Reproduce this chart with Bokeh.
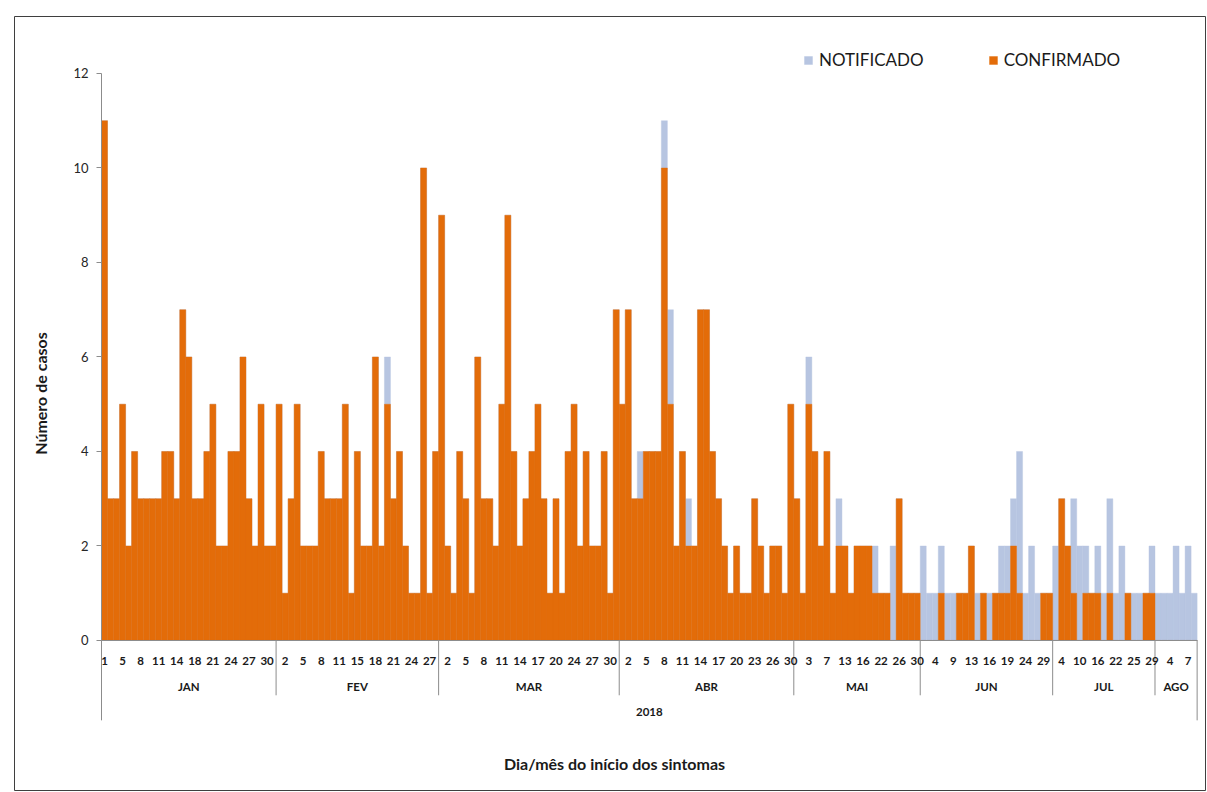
import math
from bokeh.plotting import figure
from bokeh.models import Range1d, FixedTicker, ColumnDataSource, Legend, LegendItem, Label
from bokeh.core.properties import value
from bokeh.embed import file_html
from bokeh.resources import INLINE

# ---------------- data ----------------
ano = "2018"
meses = ["JAN", "FEV", "MAR", "ABR", "MAI", "JUN", "JUL", "AGO"]

dias_jan = [1, 2, 3, 5, 6, 7, 8, 9, 10, 11, 12, 13, 14, 15, 16, 18, 19, 20, 21, 22, 23, 24, 25, 26, 27, 28, 29, 30, 31]
dias_fev = [1, 2, 3, 4, 5, 6, 7, 8, 9, 10, 11, 12, 13, 15, 16, 17, 18, 19, 20, 21, 22, 23, 24, 25, 26, 27, 28]
dias_mar = [1, 2, 3, 4, 5, 6, 7, 8, 9, 10, 11, 12, 13, 14, 15, 16, 17, 18, 19, 20, 21, 22, 24, 25, 26, 27, 28, 29, 30, 31]
dias_abr = [1, 2, 3, 4, 5, 6, 7, 8, 9, 10, 11, 12, 13, 14, 15, 16, 17, 18, 19, 20, 21, 22, 23, 24, 25, 26, 27, 28, 30]
dias_mai = [1, 2, 3, 4, 5, 7, 8, 10, 13, 14, 15, 16, 18, 21, 22, 23, 24, 26, 28, 29, 30]
dias_jun = [1, 3, 4, 5, 7, 9, 11, 12, 13, 14, 15, 16, 17, 18, 19, 21, 22, 24, 26, 27, 29, 30]
dias_jul = [2, 4, 6, 9, 10, 12, 13, 16, 18, 20, 22, 23, 24, 25, 26, 27, 29]
dias_ago = [1, 3, 4, 5, 6, 7, 8]

confirmado_jan = [11, 3, 3, 5, 2, 4, 3, 3, 3, 3, 4, 4, 3, 7, 6, 3, 3, 4, 5, 2, 2, 4, 4, 6, 3, 2, 5, 2, 2]
confirmado_fev = [5, 1, 3, 5, 2, 2, 2, 4, 3, 3, 3, 5, 1, 4, 2, 2, 6, 2, 5, 3, 4, 2, 1, 1, 10, 1, 4]
confirmado_mar = [9, 2, 1, 4, 3, 1, 6, 3, 3, 2, 5, 9, 4, 2, 3, 4, 5, 3, 1, 3, 1, 4, 5, 2, 4, 2, 2, 4, 1, 7]
confirmado_abr = [5, 7, 3, 3, 4, 4, 4, 10, 5, 2, 4, 2, 2, 7, 7, 4, 3, 2, 1, 2, 1, 1, 3, 2, 1, 2, 2, 1, 5]
confirmado_mai = [3, 1, 5, 4, 2, 4, 1, 2, 2, 1, 2, 2, 2, 1, 1, 1, 0, 3, 1, 1, 1]
confirmado_jun = [0, 0, 0, 1, 0, 0, 1, 1, 2, 0, 1, 0, 1, 1, 1, 2, 1, 0, 0, 0, 1, 1]
confirmado_jul = [0, 3, 2, 1, 0, 1, 1, 1, 0, 1, 0, 0, 1, 0, 0, 1, 1]
confirmado_ago = [0, 0, 0, 0, 0, 0, 0]

notificado_jan = [11, 3, 3, 5, 2, 4, 3, 3, 3, 3, 4, 4, 3, 7, 6, 3, 3, 4, 5, 2, 2, 4, 4, 6, 3, 2, 5, 2, 2]
notificado_fev = [5, 1, 3, 5, 2, 2, 2, 4, 3, 3, 3, 5, 1, 4, 2, 2, 6, 2, 6, 3, 4, 2, 1, 1, 10, 1, 4]
notificado_mar = [9, 2, 1, 4, 3, 1, 6, 3, 3, 2, 5, 9, 4, 2, 3, 4, 5, 3, 1, 3, 1, 4, 5, 2, 4, 2, 2, 4, 1, 7]
notificado_abr = [5, 7, 3, 4, 4, 4, 4, 11, 7, 2, 4, 3, 2, 7, 7, 4, 3, 2, 1, 2, 1, 1, 3, 2, 1, 2, 2, 1, 5]
notificado_mai = [3, 1, 6, 4, 2, 4, 1, 3, 2, 1, 2, 2, 2, 2, 1, 1, 2, 3, 1, 1, 1]
notificado_jun = [2, 1, 1, 2, 1, 1, 1, 1, 2, 1, 1, 1, 1, 2, 2, 3, 4, 1, 2, 1, 1, 1]
notificado_jul = [2, 3, 2, 3, 2, 2, 1, 2, 1, 3, 1, 2, 1, 1, 1, 1, 2]
notificado_ago = [1, 1, 1, 2, 1, 2, 1]

y_ticks = [0, 2, 4, 6, 8, 10, 12]

# ---------------- build ----------------
dias_por_mes = [dias_jan, dias_fev, dias_mar, dias_abr, dias_mai, dias_jun, dias_jul, dias_ago]
conf_por_mes = [confirmado_jan, confirmado_fev, confirmado_mar, confirmado_abr,
                confirmado_mai, confirmado_jun, confirmado_jul, confirmado_ago]
notif_por_mes = [notificado_jan, notificado_fev, notificado_mar, notificado_abr,
                 notificado_mai, notificado_jun, notificado_jul, notificado_ago]

dias = [d for lst in dias_por_mes for d in lst]
confirmado = [v for lst in conf_por_mes for v in lst]
notificado = [v for lst in notif_por_mes for v in lst]
N = len(dias)
idx = list(range(N))

LARANJA = "#E36C09"
AZUL = "#B7C5E1"
CINZA = "#8C8C8C"
FONT = "Lato"

src = ColumnDataSource(dict(x=idx, dia=dias, confirmado=confirmado, notificado=notificado))

p = figure(width=1206, height=791,
           x_range=Range1d(-14.952, 182.889), y_range=Range1d(-3.175, 13.206),
           output_backend="svg", toolbar_location=None,
           min_border_left=14, min_border_right=1, min_border_top=16, min_border_bottom=1)
p.title.visible = False
p.grid.visible = False
p.background_fill_color = "white"
p.border_fill_color = "white"
p.outline_line_color = "#3F3F3F"
p.outline_line_width = 1

r_n = p.vbar(x="x", top="notificado", bottom=0, width=1.0, source=src,
             fill_color=AZUL, line_color=AZUL, line_width=0.4)
r_c = p.vbar(x="x", top="confirmado", bottom=0, width=1.0, source=src,
             fill_color=LARANJA, line_color=LARANJA, line_width=0.4)

# x axis (days)
xa = p.xaxis[0]
xa.fixed_location = 0
xa.bounds = (-0.5, N - 0.5)
tick_pos = list(range(0, N, 3))
xa.ticker = FixedTicker(ticks=tick_pos)
xa.major_label_overrides = {i: str(dias[i]) for i in tick_pos}
xa.axis_line_color = CINZA
xa.major_tick_line_color = None
xa.minor_tick_line_color = None
xa.major_label_standoff = 11
xa.major_label_text_font = FONT
xa.major_label_text_font_size = "11.5px"
xa.major_label_text_font_style = "bold"
xa.major_label_text_color = "#1a1a1a"

# y axis
ya = p.yaxis[0]
ya.fixed_location = -0.5
ya.bounds = (0, 12)
ya.ticker = FixedTicker(ticks=y_ticks)
ya.axis_line_color = CINZA
ya.major_tick_line_color = CINZA
ya.major_tick_out = 5
ya.major_tick_in = 0
ya.minor_tick_line_color = None
ya.major_label_standoff = 8
ya.major_label_text_font = FONT
ya.major_label_text_font_size = "13px"
ya.major_label_text_color = "#262626"

# month separators and labels
cum = [0]
for lst in dias_por_mes:
    cum.append(cum[-1] + len(lst))
sep_x = [c - 0.5 for c in cum]
sep_y1 = [-1.69] + [-1.16] * (len(cum) - 2) + [-1.69]
p.segment(x0=sep_x, y0=[0] * len(sep_x), x1=sep_x, y1=sep_y1, line_color=CINZA, line_width=1)
centros = [(cum[i] + cum[i + 1] - 1) / 2 for i in range(len(meses))]
p.text(x=centros, y=[-0.97] * len(meses), text=meses, text_align="center", text_baseline="middle",
       text_font=value(FONT), text_font_size="11.5px", text_font_style="bold", text_color="#1a1a1a")
p.text(x=[(N - 1) / 2], y=[-1.52], text=[ano], text_align="center", text_baseline="middle",
       text_font=value(FONT), text_font_size="11.5px", text_font_style="bold", text_color="#1a1a1a")

# axis titles
p.add_layout(Label(x=26, y=397, x_units="screen", y_units="screen", text="Número de casos",
                   angle=math.pi / 2, text_align="center", text_baseline="middle",
                   text_font=FONT, text_font_size="16px", text_font_style="bold", text_color="#1a1a1a"))
p.add_layout(Label(x=600, y=27, x_units="screen", y_units="screen", text="Dia/mês do início dos sintomas",
                   text_align="center", text_baseline="middle",
                   text_font=FONT, text_font_size="16px", text_font_style="bold", text_color="#1a1a1a"))

legend = Legend(items=[LegendItem(label="NOTIFICADO", renderers=[r_n]),
                       LegendItem(label="CONFIRMADO", renderers=[r_c])],
                orientation="horizontal", location=(789, 720),
                glyph_width=10, glyph_height=10, label_standoff=6, spacing=64,
                padding=0, margin=0, border_line_color=None, background_fill_alpha=0,
                label_text_font=FONT, label_text_font_size="17px", label_text_color="#1a1a1a")
p.add_layout(legend)

open("out.html", "w").write(file_html(p, INLINE))
